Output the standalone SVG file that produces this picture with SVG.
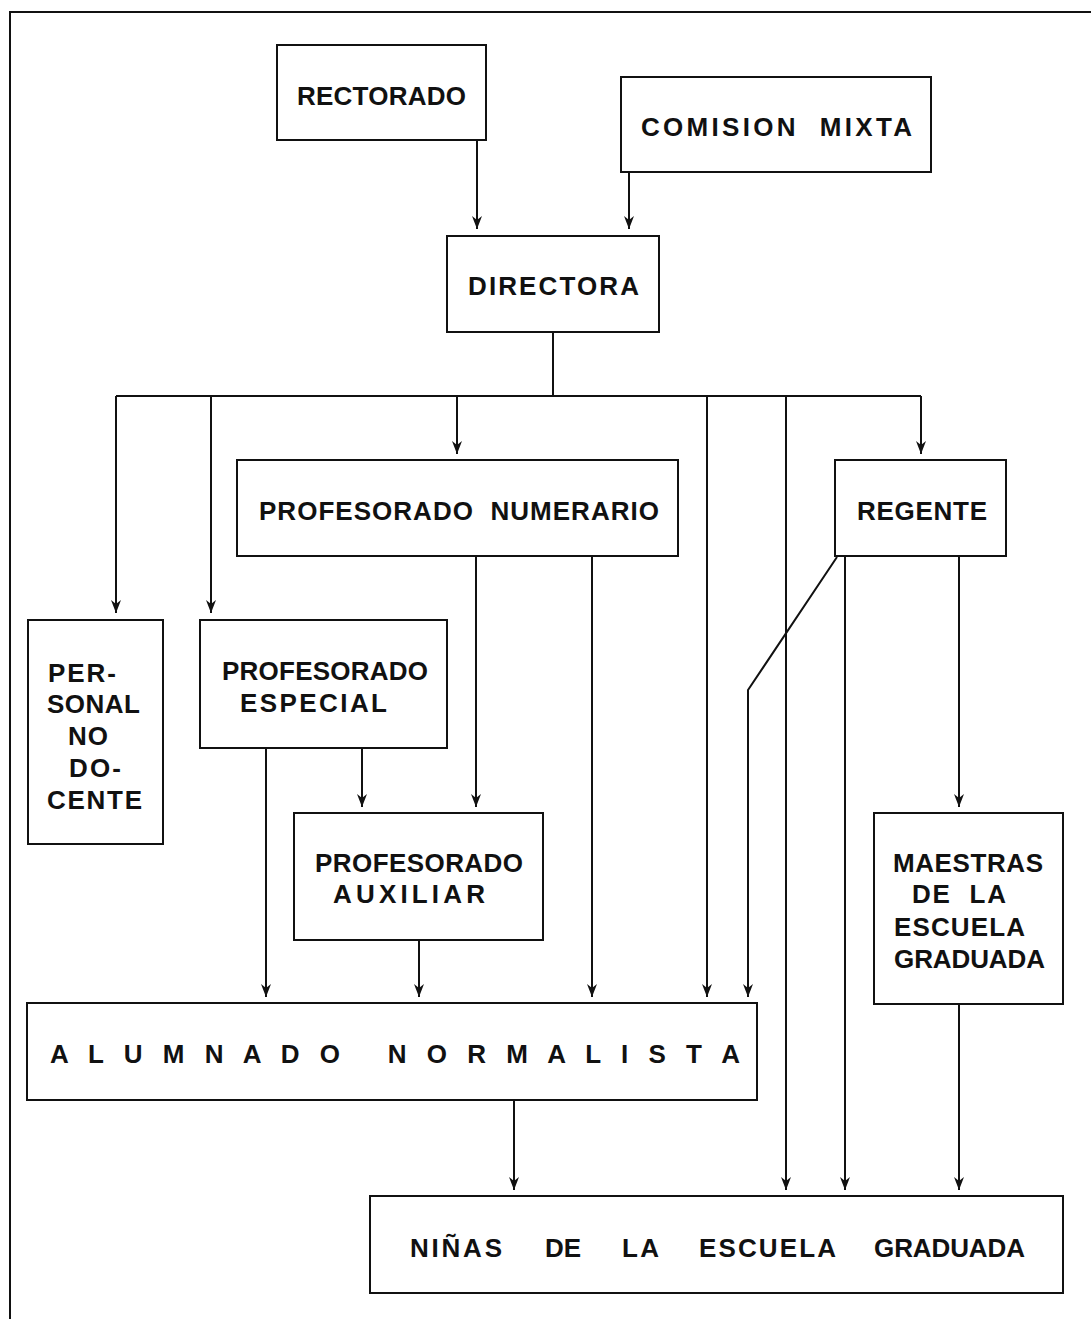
<svg xmlns="http://www.w3.org/2000/svg" width="1091" height="1319" viewBox="0 0 1091 1319">
<style>
.box{fill:#fff;stroke:#111;stroke-width:2}
.t{font-family:"Liberation Sans",Arial,sans-serif;font-weight:bold;font-size:26px;fill:#111}
.c{stroke:#111;stroke-width:2;fill:none}
</style>
<defs>
<marker id="ah" viewBox="0 0 14 10" refX="13" refY="5" markerWidth="14" markerHeight="10" markerUnits="userSpaceOnUse" orient="auto">
<path d="M0,0 L13,5 L0,10 L4,5 Z" fill="#111"/>
</marker>
</defs>
<rect width="1091" height="1319" fill="#fff"/>
<path d="M10,1319 V12 H1091" class="c"/>
<g id="connectors">
<path class="c" d="M477,140 V229" marker-end="url(#ah)"/>
<path class="c" d="M629,172 V229" marker-end="url(#ah)"/>
<path class="c" d="M553,332 V396 M116,396 H921"/>
<path class="c" d="M116,396 V613" marker-end="url(#ah)"/>
<path class="c" d="M211,396 V613" marker-end="url(#ah)"/>
<path class="c" d="M457,396 V454" marker-end="url(#ah)"/>
<path class="c" d="M707,396 V997" marker-end="url(#ah)"/>
<path class="c" d="M786,396 V1190" marker-end="url(#ah)"/>
<path class="c" d="M921,396 V454" marker-end="url(#ah)"/>
<path class="c" d="M476,556 V807" marker-end="url(#ah)"/>
<path class="c" d="M592,556 V997" marker-end="url(#ah)"/>
<path class="c" d="M837,557 L748,690 V997" marker-end="url(#ah)"/>
<path class="c" d="M845,556 V1190" marker-end="url(#ah)"/>
<path class="c" d="M959,556 V807" marker-end="url(#ah)"/>
<path class="c" d="M266,748 V997" marker-end="url(#ah)"/>
<path class="c" d="M362,748 V807" marker-end="url(#ah)"/>
<path class="c" d="M419,940 V997" marker-end="url(#ah)"/>
<path class="c" d="M959,1004 V1190" marker-end="url(#ah)"/>
<path class="c" d="M514,1100 V1190" marker-end="url(#ah)"/>
</g>
<g id="rectorado"><rect class="box" x="277" y="45" width="209" height="95"/><text class="t" x="297" y="105" textLength="169" lengthAdjust="spacing">RECTORADO</text></g>
<g id="comision"><rect class="box" x="621" y="77" width="310" height="95"/><text class="t" x="641" y="136" textLength="271" lengthAdjust="spacing" xml:space="preserve">COMISION  MIXTA</text></g>
<g id="directora"><rect class="box" x="447" y="236" width="212" height="96"/><text class="t" x="468" y="295" textLength="171" lengthAdjust="spacing">DIRECTORA</text></g>
<g id="numerario"><rect class="box" x="237" y="460" width="441" height="96"/><text class="t" x="259" y="520" textLength="400" lengthAdjust="spacing" xml:space="preserve">PROFESORADO  NUMERARIO</text></g>
<g id="regente"><rect class="box" x="835" y="460" width="171" height="96"/><text class="t" x="857" y="520" textLength="130" lengthAdjust="spacing">REGENTE</text></g>
<g id="personal"><rect class="box" x="28" y="620" width="135" height="224"/>
<text class="t" x="48" y="682" textLength="68" lengthAdjust="spacing">PER-</text>
<text class="t" x="47" y="713" textLength="93" lengthAdjust="spacing">SONAL</text>
<text class="t" x="68" y="745" textLength="40" lengthAdjust="spacing">NO</text>
<text class="t" x="69" y="777" textLength="52" lengthAdjust="spacing">DO-</text>
<text class="t" x="47" y="809" textLength="95" lengthAdjust="spacing">CENTE</text></g>
<g id="especial"><rect class="box" x="200" y="620" width="247" height="128"/>
<text class="t" x="222" y="680" textLength="206" lengthAdjust="spacing">PROFESORADO</text>
<text class="t" x="240" y="712" textLength="147" lengthAdjust="spacing">ESPECIAL</text></g>
<g id="auxiliar"><rect class="box" x="294" y="813" width="249" height="127"/>
<text class="t" x="315" y="872" textLength="208" lengthAdjust="spacing">PROFESORADO</text>
<text class="t" x="333" y="903" textLength="152" lengthAdjust="spacing">AUXILIAR</text></g>
<g id="maestras"><rect class="box" x="874" y="813" width="189" height="191"/>
<text class="t" x="893" y="872" textLength="150" lengthAdjust="spacing">MAESTRAS</text>
<text class="t" x="912" y="903" textLength="94" lengthAdjust="spacing" xml:space="preserve">DE  LA</text>
<text class="t" x="894" y="936" textLength="131" lengthAdjust="spacing">ESCUELA</text>
<text class="t" x="894" y="968" textLength="151" lengthAdjust="spacing">GRADUADA</text></g>
<g id="alumnado"><rect class="box" x="27" y="1003" width="730" height="97"/>
<text class="t" x="50" y="1063" textLength="690" lengthAdjust="spacing" xml:space="preserve">A L U M N A D O   N O R M A L I S T A</text></g>
<g id="ninas"><rect class="box" x="370" y="1196" width="693" height="97"/>
<text class="t" x="410" y="1257" textLength="92" lengthAdjust="spacing">NIÑAS</text>
<text class="t" x="545" y="1257" textLength="36" lengthAdjust="spacing">DE</text>
<text class="t" x="622" y="1257" textLength="37" lengthAdjust="spacing">LA</text>
<text class="t" x="699" y="1257" textLength="137" lengthAdjust="spacing">ESCUELA</text>
<text class="t" x="874" y="1257" textLength="151" lengthAdjust="spacing">GRADUADA</text></g>
</svg>
